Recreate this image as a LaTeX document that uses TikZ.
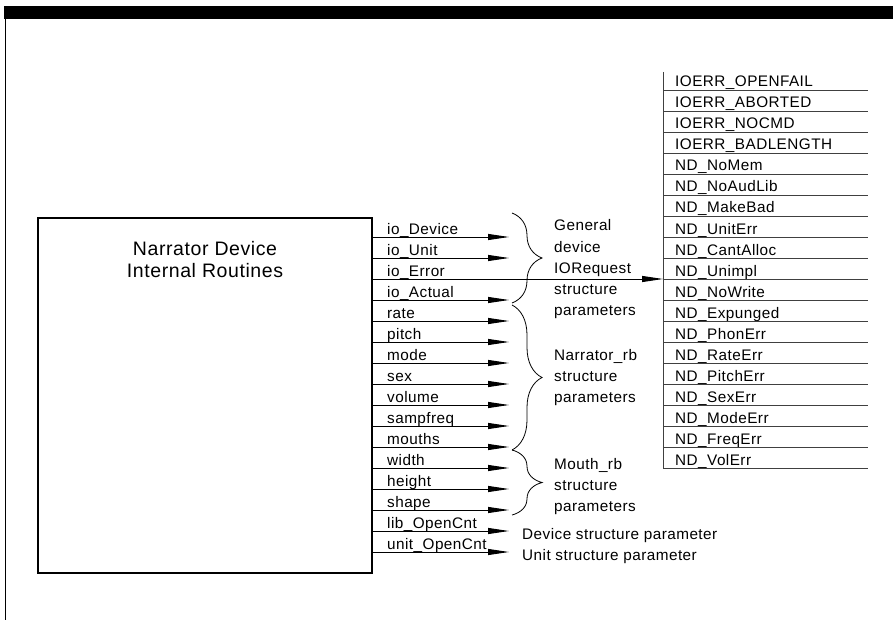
\documentclass[tikz,border=0pt]{standalone}
\usepackage{fontspec}
\setmainfont[LetterSpace=3]{Liberation Sans}
\usetikzlibrary{arrows.meta,decorations.pathreplacing}
\begin{document}
\begin{tikzpicture}[x=1pt,y=-1pt]
	% Styles (MODIFIABLES)
	\tikzstyle{fleche}=[-{Triangle[length=21pt,width=6pt]},line width=0.9pt]
	\tikzstyle{boite}=[draw,line width=2.5pt,minimum width=334pt,minimum height=355pt,inner sep=0pt]
	\tikzstyle{titre}=[anchor=base,inner sep=0pt,font=\fontsize{19.5}{22}\selectfont]
	\tikzstyle{etiquette}=[anchor=base west,inner sep=0pt,font=\fontsize{15.3}{18}\selectfont]
	\tikzstyle{accolade}=[decorate,decoration={brace,amplitude=30pt},line width=0.8pt]
	\tikzstyle{filet}=[line width=0.8pt,black!75]
	% Dimensions (MODIFIABLES)
	\def\EcartLignes{21}
	\def\LigneParam{237}
	\def\LigneErreur{90}
	\def\XEtiquette{387}
	\def\XPointe{509}
	\def\XListe{663}
	\def\XAccolade{512}
	\def\XTexte{554}
	% Cadre
	\useasboundingbox (0,0) rectangle (893,620);
	\fill (4,6) rectangle (893,19);
	\draw[line width=1pt] (5,19) -- (5,620);
	% Noeuds
	\node[boite] (dispositif) at (205,395.5) {};
	\node[titre] (titreA) at (205,255) {Narrator Device};
	\node[titre] (titreB) at (205,277) {Internal Routines};
	%
	\foreach \nom [count=\i] in {io\_Device,io\_Unit,io\_Error,io\_Actual,rate,pitch,mode,sex,volume,sampfreq,mouths,width,height,shape,lib\_OpenCnt,unit\_OpenCnt}{
		\pgfmathsetmacro{\y}{\LigneParam+(\i-1)*\EcartLignes}
		\node[etiquette] (param\i) at (\XEtiquette,\y-3) {\nom};
		\coordinate (pointe\i) at (\XPointe,\y);
	}
	%
	\foreach \nom [count=\j] in {IOERR\_OPENFAIL,IOERR\_ABORTED,IOERR\_NOCMD,IOERR\_BADLENGTH,ND\_NoMem,ND\_NoAudLib,ND\_MakeBad,ND\_UnitErr,ND\_CantAlloc,ND\_Unimpl,ND\_NoWrite,ND\_Expunged,ND\_PhonErr,ND\_RateErr,ND\_PitchErr,ND\_SexErr,ND\_ModeErr,ND\_FreqErr,ND\_VolErr}{
		\pgfmathsetmacro{\y}{\LigneErreur+(\j-1)*\EcartLignes}
		\node[etiquette] (erreurtxt\j) at (\XListe+12,\y-3) {\nom};
		\coordinate (erreur\j) at (\XListe,\y);
		\coordinate (erreurfin\j) at (868,\y);
		\draw[filet] (erreur\j) -- (erreurfin\j);
	}
	\coordinate (listehaut) at (\XListe,72);
	\draw[filet] (listehaut) -- (erreur19);
	%
	\foreach \ligne [count=\k] in {General,device,IORequest,structure,parameters}
		\node[etiquette] (gen\k) at (\XTexte,{231+(\k-1)*\EcartLignes}) {\ligne};
	\foreach \ligne [count=\k] in {Narrator\_rb,structure,parameters}
		\node[etiquette] (narr\k) at (\XTexte,{360+(\k-1)*\EcartLignes}) {\ligne};
	\foreach \ligne [count=\k] in {Mouth\_rb,structure,parameters}
		\node[etiquette] (bouche\k) at (\XTexte,{469+(\k-1)*\EcartLignes}) {\ligne};
	\node[etiquette] (devstruct) at (522,539) {Device structure parameter};
	\node[etiquette] (unitstruct) at (522,560) {Unit structure parameter};
	% Accolades
	\draw[accolade] (\XAccolade,213) -- (\XAccolade,303);
	\draw[accolade] (\XAccolade,305) -- (\XAccolade,450);
	\draw[accolade] (\XAccolade,450) -- (\XAccolade,515);
	% Arcs (MODIFIABLES : Styles)
	\foreach \i in {1,2,4,5,6,7,8,9,10,11,12,13,14,15,16}
		\draw[fleche] (pointe\i -| dispositif.east) -- (pointe\i);
	\draw[fleche] (pointe3 -| dispositif.east) -- (erreur10);
\end{tikzpicture}
\end{document}
